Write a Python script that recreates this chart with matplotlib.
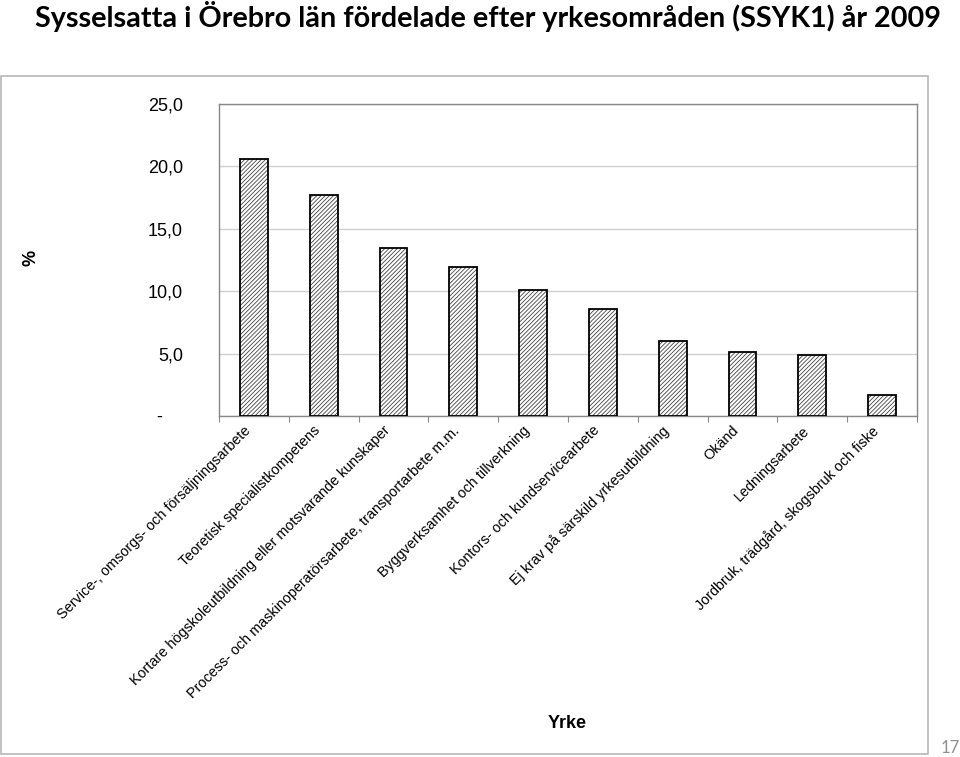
import matplotlib
matplotlib.use("Agg")
import matplotlib.pyplot as plt
from matplotlib.patches import Rectangle

plt.rcParams['font.family'] = ['Liberation Sans', 'DejaVu Sans']
plt.rcParams['hatch.linewidth'] = 0.6

# Yrkesområden (SSYK1), andel sysselsatta i procent
categories = [
    "Service-, omsorgs- och försäljningsarbete",
    "Teoretisk specialistkompetens",
    "Kortare högskoleutbildning eller motsvarande kunskaper",
    "Process- och maskinoperatörsarbete, transportarbete m.m.",
    "Byggverksamhet och tillverkning",
    "Kontors- och kundservicearbete",
    "Ej krav på särskild yrkesutbildning",
    "Okänd",
    "Ledningsarbete",
    "Jordbruk, trädgård, skogsbruk och fiske",
]
values = [20.6, 17.7, 13.5, 11.9, 10.1, 8.6, 6.0, 5.1, 4.9, 1.7]
yticks = [0, 5, 10, 15, 20, 25]
ytick_labels = ["-    ", "5,0", "10,0", "15,0", "20,0", "25,0"]

W, H = 960, 757
fig = plt.figure(figsize=(W / 100, H / 100), dpi=100)

# plot area in pixels: left 219, top 104, right 917, bottom 416
ax = fig.add_axes([219 / W, 1 - 416 / H, (917 - 219) / W, (416 - 104) / H])

x = list(range(len(categories)))
# hatch fill in grey, then black outline on top
ax.bar(x, values, width=0.4, color='white', edgecolor='#444444',
       linewidth=0, hatch='////////', zorder=3)
ax.bar(x, values, width=0.4, fill=False, edgecolor='black',
       linewidth=1.3, zorder=4)

ax.set_xlim(-0.5, len(categories) - 0.5)
ax.set_ylim(0, 25)
ax.set_yticks(yticks)
ax.set_yticklabels(ytick_labels, fontsize=13)
ax.tick_params(axis='y', length=0, pad=26)

# small ticks between categories
ax.set_xticks([i + 0.5 for i in range(-1, len(categories))])
ax.set_xticklabels([])
ax.tick_params(axis='x', length=4, color='#888888', direction='out')

for i, lab in enumerate(categories):
    ax.annotate(lab, xy=(i, 0), xycoords=('data', 'axes fraction'),
                xytext=(-4, -9), textcoords='offset points',
                rotation=45, ha='right', va='center', rotation_mode='anchor',
                fontsize=10.4)

ax.yaxis.grid(True, color='#d0d0d0', linewidth=1, zorder=0)
for s in ax.spines.values():
    s.set_color('#888888')
    s.set_linewidth(1)

# outer chart box
fig.patches.append(Rectangle((1 / W, 1 - 754 / H), 927 / W, (754 - 76) / H,
                             transform=fig.transFigure, fill=False,
                             edgecolor='#b8b8b8', linewidth=1.2))

fig.text(35 / W, 1 - 17 / H,
         "Sysselsatta i Örebro län fördelade efter yrkesområden (SSYK1) år 2009",
         fontsize=20.7, fontweight='bold', ha='left', va='center',
         family=['Lato', 'DejaVu Sans'])
fig.text(31 / W, 1 - 258 / H, "%", fontsize=13, fontweight='bold',
         rotation=90, ha='center', va='center')
fig.text(567 / W, 1 - 724 / H, "Yrke", fontsize=13, fontweight='bold',
         ha='center', va='center')
fig.text(950 / W, 1 - 748 / H, "17", fontsize=12, color='#909090',
         ha='center', va='center', family=['Lato', 'DejaVu Sans'])

fig.savefig("out.png", dpi=100)
